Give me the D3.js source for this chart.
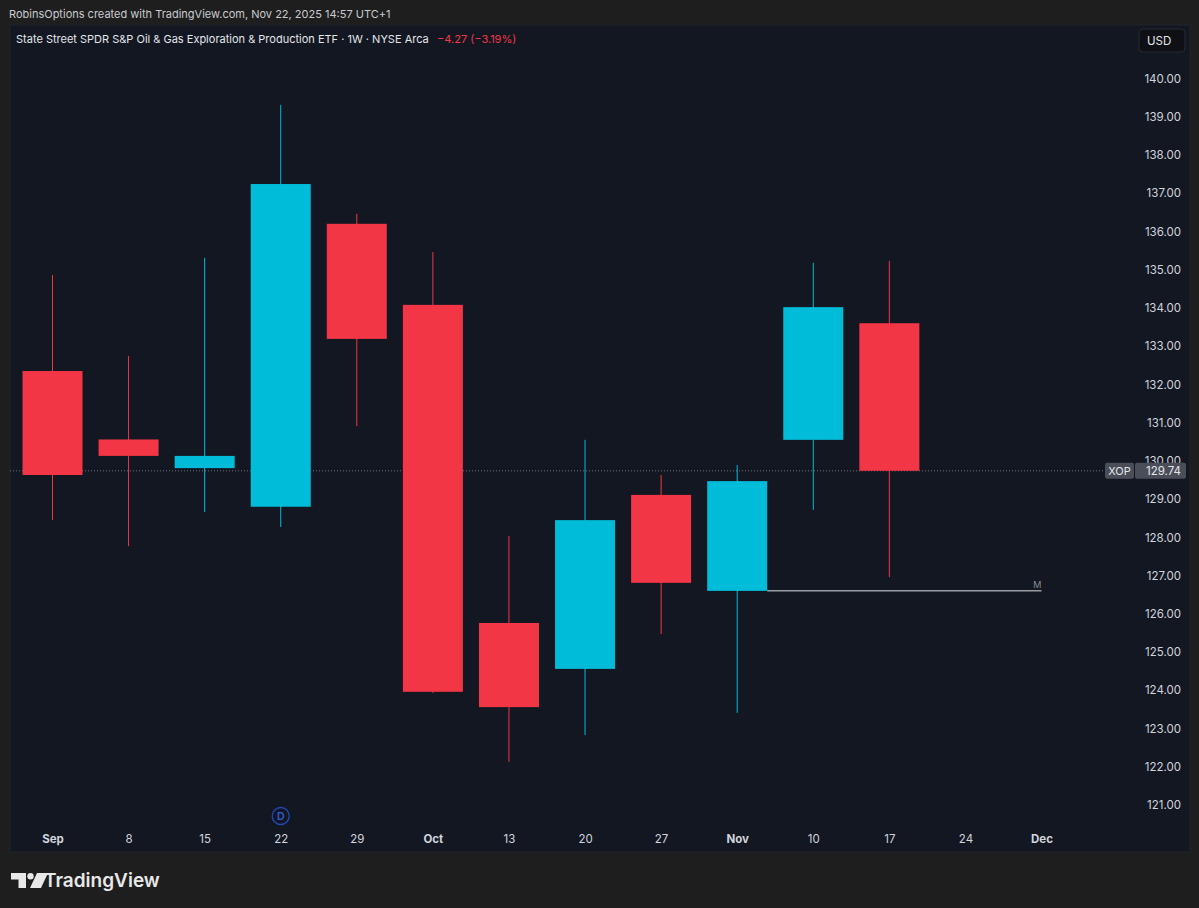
<!DOCTYPE html>
<html>
<head>
<meta charset="utf-8">
<script src="https://cdn.jsdelivr.net/npm/d3@7"></script>
<style>
  html, body { margin: 0; padding: 0; background: #1e1e1e; }
  svg { display: block; }
  text { font-family: Inter, "Noto Sans", sans-serif; }
</style>
</head>
<body>
<div id="chart"></div>
<script>
// weekly candles
const weeks = ['2025-09-01', '2025-09-08', '2025-09-15', '2025-09-22', '2025-09-29', '2025-10-06', '2025-10-13', '2025-10-20', '2025-10-27', '2025-11-03', '2025-11-10', '2025-11-17'];
const opens = [132.35, 130.56, 129.81, 128.80, 136.20, 134.08, 125.76, 124.56, 129.11, 126.60, 130.55, 133.60];
const highs = [134.86, 132.74, 135.31, 139.31, 136.46, 135.46, 128.04, 130.55, 129.63, 129.89, 135.18, 135.23];
const lows = [128.45, 127.77, 128.66, 128.27, 130.91, 123.93, 122.13, 122.83, 125.47, 123.41, 128.72, 126.96];
const closes = [129.63, 130.13, 130.13, 137.24, 133.19, 123.96, 123.56, 128.45, 126.81, 129.47, 134.02, 129.74];

const priceTicks = [121, 122, 123, 124, 125, 126, 127, 128, 129, 130, 131, 132, 133, 134, 135, 136, 137, 138, 139, 140];
const timeTicks = ['2025-09-01', '2025-09-08', '2025-09-15', '2025-09-22', '2025-09-29', '2025-10-06', '2025-10-13', '2025-10-20', '2025-10-27', '2025-11-03', '2025-11-10', '2025-11-17', '2025-11-24', '2025-12-01'];
const timeLabels = ['Sep', '8', '15', '22', '29', 'Oct', '13', '20', '27', 'Nov', '10', '17', '24', 'Dec'];
const monthLabels = ['Sep', 'Oct', 'Nov', 'Dec'];

const lastPrice = 129.74;
const monthlyLevel = 126.6;
const monthlyStart = '2025-11-03';
const monthlyEnd = '2025-12-01';
const dividendWeek = '2025-09-22';

const width = 1199;
const height = 908;
const panel = { left: 10, right: 1190, top: 25, bottom: 852 };
const bodyWidth = 60;

const UP = '#00bcd9';
const DOWN = '#f23645';
const TEXT = '#d1d4dc';

const parseDay = d3.utcParse('%Y-%m-%d');

// Scales
const x = d3.scaleUtc()
  .domain([parseDay(timeTicks[0]), parseDay(timeTicks[timeTicks.length - 1])])
  .range([52.5, 1041.5]);

const y = d3.scaleLinear()
  .domain([121, 140])
  .range([805, 78.5]);

const svg = d3.select('#chart')
  .append('svg')
  .attr('width', width)
  .attr('height', height);

// Header line
svg.append('text')
  .attr('x', 9)
  .attr('y', 18)
  .attr('font-size', 11)
  .attr('fill', '#c9cbd0')
  .text('RobinsOptions created with TradingView.com, Nov 22, 2025 14:57 UTC+1');

// Chart panel
svg.append('rect')
  .attr('x', panel.left)
  .attr('y', panel.top)
  .attr('width', panel.right - panel.left)
  .attr('height', panel.bottom - panel.top)
  .attr('fill', '#131722')
  .attr('stroke', '#20242d');

svg.append('text')
  .attr('x', 16)
  .attr('y', 43)
  .attr('font-size', 11)
  .attr('fill', '#e4e6ea')
  .text('State Street SPDR S&P Oil & Gas Exploration & Production ETF · 1W · NYSE Arca');

svg.append('text')
  .attr('x', 437)
  .attr('y', 43)
  .attr('font-size', 11)
  .attr('fill', DOWN)
  .text('−4.27 (−3.19%)');

// USD button
svg.append('rect')
  .attr('x', 1139)
  .attr('y', 29)
  .attr('width', 46)
  .attr('height', 23)
  .attr('rx', 4)
  .attr('fill', '#0e1015')
  .attr('stroke', '#262a34');

svg.append('text')
  .attr('x', 1147)
  .attr('y', 44.5)
  .attr('font-size', 11.5)
  .attr('fill', '#e4e6ea')
  .text('USD');

// Price axis
const axisY = d3.axisRight(y)
  .tickValues(priceTicks)
  .tickSize(0)
  .tickPadding(0)
  .tickFormat(d3.format('.2f'));

const gY = svg.append('g')
  .attr('transform', 'translate(1181,0)')
  .call(axisY);
gY.select('.domain').remove();
gY.selectAll('text')
  .attr('text-anchor', 'end')
  .attr('font-size', 11.5)
  .attr('fill', TEXT)
  .style('font-family', 'Inter, "Noto Sans", sans-serif');

// Time axis
const axisX = d3.axisBottom(x)
  .tickValues(timeTicks.map(parseDay))
  .tickSize(0)
  .tickPadding(0)
  .tickFormat(function (d, i) { return timeLabels[i]; });

const gX = svg.append('g')
  .attr('transform', 'translate(0,835)')
  .call(axisX);
gX.select('.domain').remove();
gX.selectAll('text')
  .attr('font-size', 11.5)
  .attr('fill', TEXT)
  .attr('font-weight', function (d, i) { return monthLabels.includes(timeLabels[i]) ? 700 : 400; })
  .style('font-family', 'Inter, "Noto Sans", sans-serif');

// Last price dotted line
svg.append('line')
  .attr('x1', panel.left)
  .attr('x2', 1105)
  .attr('y1', y(lastPrice))
  .attr('y2', y(lastPrice))
  .attr('stroke', '#6f737c')
  .attr('stroke-width', 1)
  .attr('stroke-dasharray', '1 2');

// Candles
const candles = weeks.map(function (w, i) {
  return { date: parseDay(w), open: opens[i], high: highs[i], low: lows[i], close: closes[i] };
});

const candle = svg.append('g')
  .selectAll('g')
  .data(candles)
  .enter()
  .append('g');

candle.append('line')
  .attr('x1', function (d) { return x(d.date); })
  .attr('x2', function (d) { return x(d.date); })
  .attr('y1', function (d) { return y(d.high); })
  .attr('y2', function (d) { return y(d.low); })
  .attr('stroke', function (d) { return d.close >= d.open ? UP : DOWN; })
  .attr('stroke-width', 1);

candle.append('rect')
  .attr('x', function (d) { return x(d.date) - bodyWidth / 2; })
  .attr('y', function (d) { return y(Math.max(d.open, d.close)); })
  .attr('width', bodyWidth)
  .attr('height', function (d) { return Math.abs(y(d.open) - y(d.close)); })
  .attr('fill', function (d) { return d.close >= d.open ? UP : DOWN; });

// Monthly level line
svg.append('line')
  .attr('x1', x(parseDay(monthlyStart)) + bodyWidth / 2)
  .attr('x2', x(parseDay(monthlyEnd)))
  .attr('y1', y(monthlyLevel))
  .attr('y2', y(monthlyLevel))
  .attr('stroke', '#9a9da3')
  .attr('stroke-width', 1.5);

svg.append('text')
  .attr('x', x(parseDay(monthlyEnd)))
  .attr('y', y(monthlyLevel) - 2.5)
  .attr('text-anchor', 'end')
  .attr('font-size', 9)
  .attr('fill', '#8a8d94')
  .text('M');

// Dividend marker
svg.append('circle')
  .attr('cx', x(parseDay(dividendWeek)))
  .attr('cy', 816)
  .attr('r', 8.5)
  .attr('fill', 'none')
  .attr('stroke', '#2447b8')
  .attr('stroke-width', 1.3);

svg.append('text')
  .attr('x', x(parseDay(dividendWeek)))
  .attr('y', 820)
  .attr('text-anchor', 'middle')
  .attr('font-size', 10.5)
  .attr('font-weight', 600)
  .attr('fill', '#2f5bd6')
  .text('D');

// Price labels
svg.append('rect')
  .attr('x', 1105)
  .attr('y', y(lastPrice) - 8)
  .attr('width', 29)
  .attr('height', 16)
  .attr('rx', 2)
  .attr('fill', '#4a4e59');

svg.append('text')
  .attr('x', 1119.5)
  .attr('y', y(lastPrice) + 4)
  .attr('text-anchor', 'middle')
  .attr('font-size', 11)
  .attr('fill', '#e4e6ea')
  .text('XOP');

svg.append('rect')
  .attr('x', 1135)
  .attr('y', y(lastPrice) - 8)
  .attr('width', 51)
  .attr('height', 16)
  .attr('rx', 2)
  .attr('fill', '#4a4e59');

svg.append('text')
  .attr('x', 1181)
  .attr('y', y(lastPrice) + 4)
  .attr('text-anchor', 'end')
  .attr('font-size', 11.5)
  .attr('fill', '#e4e6ea')
  .text(d3.format('.2f')(lastPrice));

// TradingView logo
const logo = svg.append('g')
  .attr('transform', 'translate(11,873)')
  .attr('fill', '#e8e8e8');
logo.append('path').attr('d', 'M0 0H15V15H7.5V6.5H0Z');
logo.append('circle').attr('cx', 19.5).attr('cy', 3.2).attr('r', 3.2);
logo.append('path').attr('d', 'M20.5 15L27 0H27.5H27L22 15Z M26 0H37L30 15H19Z');

svg.append('text')
  .attr('x', 44)
  .attr('y', 887)
  .attr('font-size', 19)
  .attr('font-weight', 600)
  .attr('fill', '#e8e8e8')
  .text('TradingView');
</script>
</body>
</html>
